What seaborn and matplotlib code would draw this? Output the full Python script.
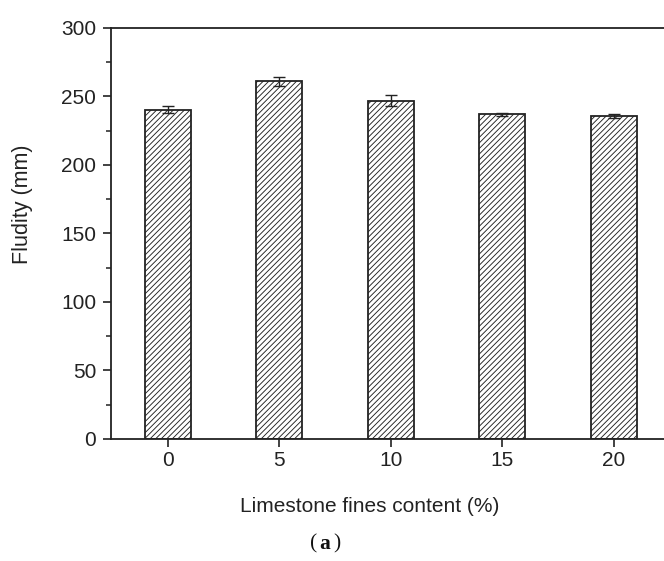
import matplotlib
matplotlib.use("Agg")
import matplotlib.pyplot as plt
from matplotlib.ticker import MultipleLocator
import seaborn as sns
import pandas as pd

# Limestone fines content (%) and measured fluidity (mm) with error
contents = ["0", "5", "10", "15", "20"]
fluidity = [240.5, 261.0, 247.0, 237.0, 236.0]
fluidity_err = [2.5, 3.0, 4.0, 1.0, 1.5]

sns.set_theme(style="white")
plt.rcParams["font.family"] = ["Liberation Sans", "DejaVu Sans"]
plt.rcParams["hatch.color"] = "#7a7a7a"
plt.rcParams["hatch.linewidth"] = 0.65

df = pd.DataFrame({"content": contents, "fluidity": fluidity})

fig = plt.figure(figsize=(6.64, 5.61), dpi=100)
ax = fig.add_axes([0.167, 0.2175, 0.843, 0.7326])

sns.barplot(data=df, x="content", y="fluidity", order=contents,
            color="white", edgecolor="#222222", linewidth=1.3,
            width=0.41, errorbar=None, ax=ax)
for bar in ax.patches:
    bar.set_hatch("//////")

ax.errorbar(range(len(contents)), fluidity, yerr=fluidity_err, fmt="none",
            ecolor="#222222", elinewidth=1.0, capsize=4, capthick=1.0)

ax.set_xlim(-0.51, 4.51)
ax.set_ylim(0, 300)
ax.yaxis.set_major_locator(MultipleLocator(50))
ax.yaxis.set_minor_locator(MultipleLocator(25))

for side in ["left", "bottom", "top", "right"]:
    ax.spines[side].set_visible(True)
    ax.spines[side].set_color("#222222")
    ax.spines[side].set_linewidth(1.3)

ax.tick_params(axis="both", which="major", direction="out", length=6,
               width=1.2, color="#222222", labelsize=15, labelcolor="#222222",
               bottom=True, left=True, top=False, right=False)
ax.tick_params(axis="y", which="major", pad=4.5)
ax.tick_params(axis="x", which="major", pad=3)
ax.tick_params(axis="y", which="minor", direction="out", length=3.5,
               width=1.1, color="#222222", left=True)

ax.set_xlabel("Limestone fines content (%)", fontsize=15, color="#222222")
ax.set_ylabel("Fludity (mm)", fontsize=15.5, color="#222222")
ax.xaxis.set_label_coords(0.4625, -0.14)
ax.yaxis.set_label_coords(-0.139, 0.572)

# Panel tag: "(a)" with a bold letter
serif = ["Liberation Serif", "DejaVu Serif"]
fig.text(0.4895, 0.022, "a", fontsize=15.5, fontweight="bold",
         family=serif, ha="center", va="baseline", color="#111111")
fig.text(0.4775, 0.022, "(", fontsize=15.5,
         family=serif, ha="right", va="baseline", color="#111111")
fig.text(0.5015, 0.022, ")", fontsize=15.5,
         family=serif, ha="left", va="baseline", color="#111111")

fig.savefig("out.png", dpi=100)
